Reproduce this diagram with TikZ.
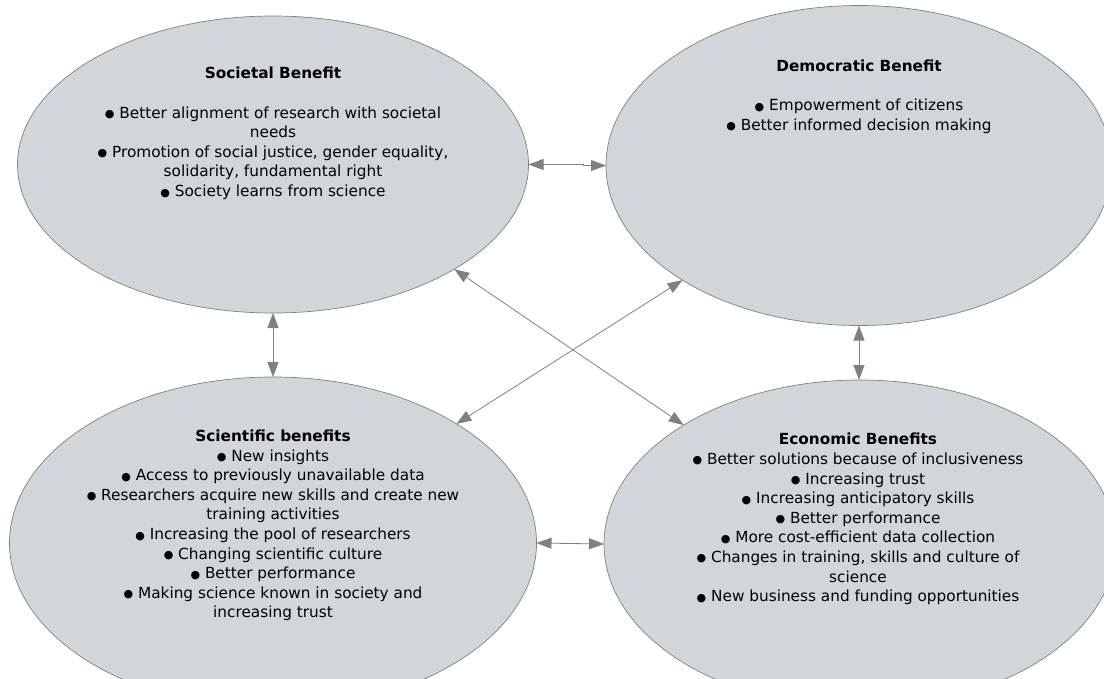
\documentclass[tikz,border=0pt]{standalone}
\usepackage{fontspec}
\setmainfont{DejaVu Sans}
\usetikzlibrary{shapes.geometric,arrows.meta}
\definecolor{ellfill}{HTML}{D1D6DB}
\definecolor{ellline}{HTML}{808080}
\definecolor{arrowgray}{HTML}{808080}
\newcommand\bul{\raisebox{0.5pt}{\fontsize{11}{11}\selectfont ●}\ }
\begin{document}
\begin{tikzpicture}[x=1pt,y=-1pt,
  benefit/.style={ellipse, draw=ellline, line width=0.7pt, fill=ellfill, inner sep=0pt, outer sep=0pt},
  txt/.style={align=center, font=\fontsize{15.3}{19.6}\selectfont, inner sep=0pt, text=black},
  link/.style={draw=arrowgray, line width=0.8pt, {Triangle[length=15pt,width=11pt]}-{Triangle[length=15pt,width=11pt]}}
]
\useasboundingbox (0,0) rectangle (1104,678);
\clip (0,0) rectangle (1104,678);

\node[benefit, minimum width=511pt, minimum height=297pt] (soc) at (273,164.5) {};
\node[benefit, minimum width=506pt, minimum height=320pt] (dem) at (859,165.5) {};
\node[benefit, minimum width=527pt, minimum height=332pt] (sci) at (273,543) {};
\node[benefit, minimum width=512pt, minimum height=328pt] (eco) at (860,544) {};

\node[txt, yshift=31pt] (soct) at (soc.center) {\textbf{Societal Benefit}\\[19.6pt]
\bul Better alignment of research with societal\\
needs\\
\bul Promotion of social justice, gender equality,\\
solidarity, fundamental right\\
\bul Society learns from science};

\node[txt, yshift=69pt] (demt) at (dem.center) {\textbf{Democratic Benefit}\\[19.6pt]
\bul Empowerment of citizens\\
\bul Better informed decision making};

\node[txt, yshift=17.5pt] (scit) at (sci.center) {\textbf{Scientific benefits}\\
\bul New insights\\
\bul Access to previously unavailable data\\
\bul Researchers acquire new skills and create new\\
training activities\\
\bul Increasing the pool of researchers\\
\bul Changing scientific culture\\
\bul Better performance\\
\bul Making science known in society and\\
increasing trust};

\node[txt, yshift=25pt] (ecot) at ([xshift=-2pt]eco.center) {\textbf{Economic Benefits}\\
\bul Better solutions because of inclusiveness\\
\bul Increasing trust\\
\bul Increasing anticipatory skills\\
\bul Better performance\\
\bul More cost-efficient data collection\\
\bul Changes in training, skills and culture of\\
science\\
\bul New business and funding opportunities};

\draw[link] (soc.east) -- ++(55,0) |- (dem.west);
\draw[link] (soc.south) -- (soc.south |- sci.north);
\draw[link] (dem.south) -- (dem.south |- eco.north);
\draw[link] (sci.east) -- (eco.west);
\draw[link] (soc.-30) -- (eco.146.5);
\draw[link] (dem.-147.6) -- (sci.33.3);
\end{tikzpicture}
\end{document}
